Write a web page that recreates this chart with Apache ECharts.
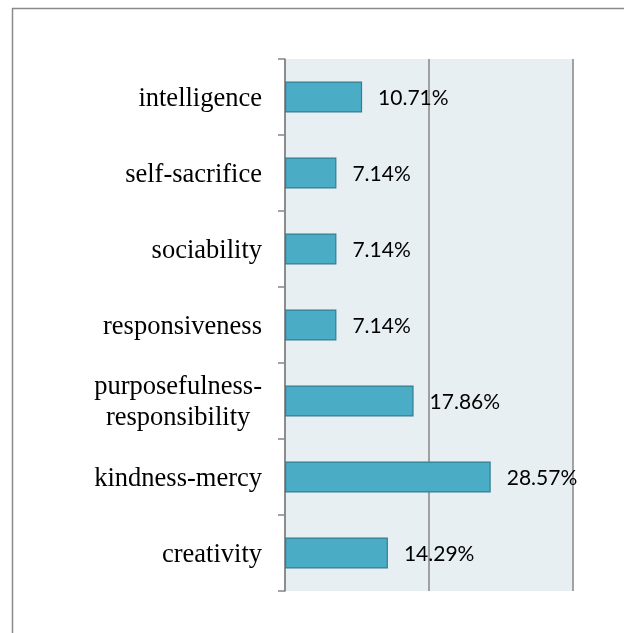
<!DOCTYPE html>
<html>
<head>
<meta charset="utf-8">
<script src="https://cdn.jsdelivr.net/npm/echarts@6/dist/echarts.min.js"></script>
<style>
  html, body { margin: 0; padding: 0; background: #ffffff; }
  #chart { width: 624px; height: 633px; }
</style>
</head>
<body>
<div id="chart"></div>
<script>
// Qualities, listed top to bottom
var categories = [
  'intelligence',
  'self-sacrifice',
  'sociability',
  'responsiveness',
  'purposefulness-\nresponsibility',
  'kindness-mercy',
  'creativity'
];
// Share of respondents, percent
var values = [10.71, 7.14, 7.14, 7.14, 17.86, 28.57, 14.29];
var xTicks = [0, 20, 40];

var serif = '"Liberation Serif", "Times New Roman", serif';

var chart = echarts.init(document.getElementById('chart'));

chart.setOption({
  animation: false,
  backgroundColor: '#ffffff',
  graphic: [{
    type: 'rect',
    shape: { x: 12.5, y: 8.5, width: 700, height: 700 },
    style: { fill: 'none', stroke: '#8a8a8a', lineWidth: 1.5 },
    silent: true
  }],
  grid: {
    left: 285, top: 59, right: 51, bottom: 42,
    show: true,
    backgroundColor: '#e8eff3',
    borderWidth: 0
  },
  xAxis: {
    type: 'value',
    min: xTicks[0],
    max: xTicks[xTicks.length - 1],
    interval: xTicks[1] - xTicks[0],
    axisLine: { show: false },
    axisTick: { show: false },
    axisLabel: { show: false },
    splitLine: { show: true, lineStyle: { color: '#868686', width: 1.5 } }
  },
  yAxis: {
    type: 'category',
    data: categories,
    inverse: true,
    axisLine: { show: true, lineStyle: { color: '#868686', width: 1.5 } },
    axisTick: { show: true, inside: false, length: 7, lineStyle: { color: '#868686', width: 1.5 } },
    axisLabel: {
      margin: 23,
      padding: [4, 0, 0, 0],
      color: '#000000',
      fontFamily: serif,
      fontSize: 26.5,
      lineHeight: 31,
      formatter: function (v) {
        return v.split('\n').map(function (line) { return '{c|' + line + '}'; }).join('\n');
      },
      rich: {
        c: {
          align: 'center',
          fontFamily: serif,
          fontSize: 26.5,
          lineHeight: 31,
          color: '#000000'
        }
      }
    }
  },
  series: [{
    type: 'bar',
    data: values,
    barWidth: 31,
    itemStyle: { color: '#4bacc6', borderColor: '#357d92', borderWidth: 1.2 },
    label: {
      show: true,
      position: 'right',
      distance: 16,
      offset: [0, 1],
      color: '#000000',
      fontFamily: 'Lato, "Open Sans", sans-serif',
      fontSize: 21,
      formatter: function (p) { return p.value.toFixed(2) + '%'; }
    }
  }]
});
</script>
</body>
</html>
